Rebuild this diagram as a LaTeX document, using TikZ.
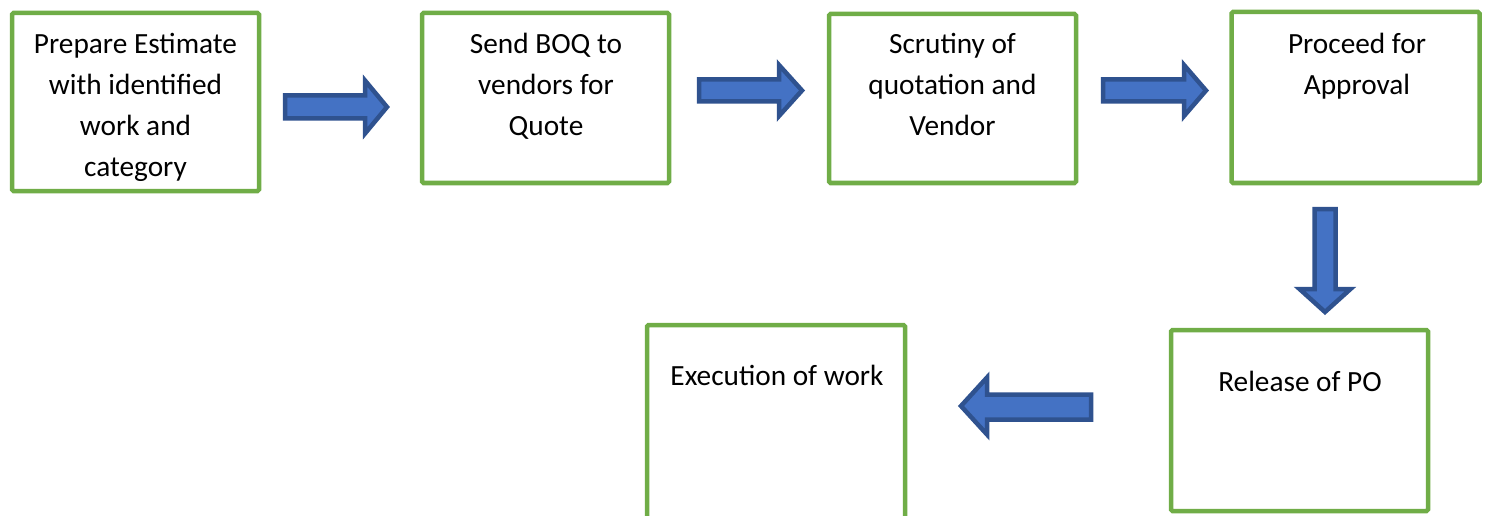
\documentclass[tikz,border=0pt]{standalone}
\usepackage{fontspec}
\setmainfont{Carlito}
\definecolor{boxgreen}{HTML}{70AD47}
\definecolor{arrowfill}{HTML}{4472C4}
\definecolor{arrowline}{HTML}{2F528F}
\begin{document}
\begin{tikzpicture}[x=1pt,y=-1pt,
  stepbox/.style={draw=boxgreen, line width=4.5pt, fill=white, rounded corners=1.5pt,
    inner sep=0pt, outer sep=0pt},
  steptext/.style={align=center, inner sep=0pt, anchor=north,
    font=\fontsize{29.3}{41}\selectfont},
  blockarrow/.style={fill=arrowfill, draw=arrowline, line width=4.5pt, line join=miter}]
  % page area
  \useasboundingbox (0,0) rectangle (1489,516);
  \clip (0,0) rectangle (1489,516);

  % process boxes
  \node[stepbox, minimum width=247pt, minimum height=178pt] (estimate) at (135.5,102) {};
  \node[stepbox, minimum width=247pt, minimum height=170pt] (boq) at (545.5,98) {};
  \node[stepbox, minimum width=247pt, minimum height=169pt] (scrutiny) at (952.5,98.5) {};
  \node[stepbox, minimum width=248pt, minimum height=171pt] (approval) at (1355.5,97.5) {};
  \node[stepbox, minimum width=257pt, minimum height=181pt] (po) at (1299.5,420.5) {};
  \node[stepbox, minimum width=258pt, minimum height=235pt] (execution) at (776,442.5) {};

  % box captions (first baseline = anchor y + strut height 28.7)
  \node[steptext] (estimatetext) at (135.5,24.3) {\strut Prepare Estimate\\\strut with identified\\\strut work and\\\strut category};
  \node[steptext] (boqtext) at (546,24.3) {\strut Send BOQ to\\\strut vendors for\\\strut Quote};
  \node[steptext] (scrutinytext) at (952.5,24.3) {\strut Scrutiny of\\\strut quotation and\\\strut Vendor};
  \node[steptext] (approvaltext) at (1357,24.3) {\strut Proceed for\\\strut Approval};
  \node[steptext] (potext) at (1300,362.3) {\strut Release of PO};
  \node[steptext] (executiontext) at (777,356.3) {\strut Execution of work};

  % block arrows between the steps
  \draw[blockarrow] (285,95.5) -- (365,95.5) -- (365,80.5) -- (387,107) -- (365,133.5)
    -- (365,118.5) -- (285,118.5) -- cycle;
  \draw[blockarrow] (699,79.5) -- (779,79.5) -- (779,65) -- (802,90.5) -- (779,116)
    -- (779,101.5) -- (699,101.5) -- cycle;
  \draw[blockarrow] (1103,79.5) -- (1184,79.5) -- (1184,65) -- (1206,90.5) -- (1184,116)
    -- (1184,101.5) -- (1103,101.5) -- cycle;
  \draw[blockarrow] (1314.5,209) -- (1314.5,289) -- (1299.5,289) -- (1325,312)
    -- (1350.5,289) -- (1335.5,289) -- (1335.5,209) -- cycle;
  \draw[blockarrow] (1091,394.5) -- (987,394.5) -- (987,377.5) -- (961,406) -- (987,434.5)
    -- (987,419.5) -- (1091,419.5) -- cycle;
\end{tikzpicture}
\end{document}
